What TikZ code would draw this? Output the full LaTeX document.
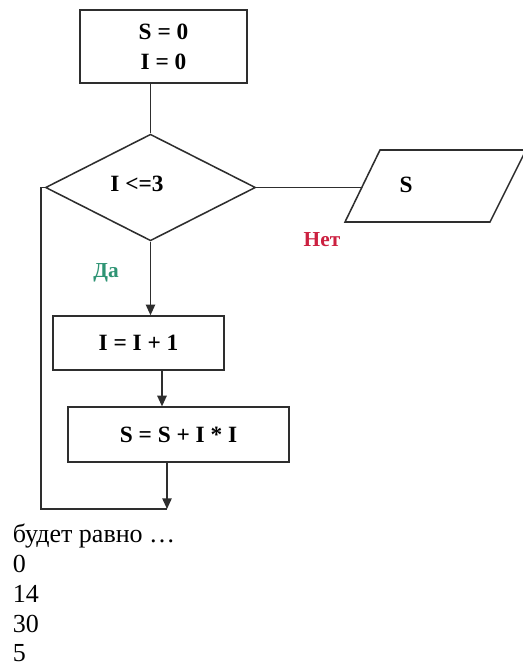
\documentclass[tikz,border=0pt]{standalone}
\usepackage{fontspec}
\setmainfont{Liberation Serif}
\usetikzlibrary{shapes.geometric,arrows.meta,calc}
\definecolor{lin}{HTML}{2E2E2E}
\definecolor{nored}{HTML}{CC2040}
\definecolor{yesgreen}{HTML}{2E9474}
\begin{document}
\begin{tikzpicture}[x=0.75pt,y=-0.75pt,
  line width=1.15pt,
  proc/.style={draw=lin,rectangle,inner sep=0pt,font=\fontsize{17.5}{20}\selectfont\bfseries,align=center},
  dec/.style={draw=lin,diamond,inner sep=0pt,minimum width=157.5pt,minimum height=80pt},
  lbl/.style={font=\fontsize{17.5}{20}\selectfont\bfseries,inner sep=0pt},
  slbl/.style={font=\fontsize{16}{19}\selectfont\bfseries,inner sep=0pt},
  arr/.style={draw=lin,-{Triangle[length=8pt,width=7pt]}},
  conn/.style={draw=lin},
  ans/.style={font=\fontsize{19.5}{22}\selectfont,anchor=base west,inner sep=0pt}]
\useasboundingbox (0,0) rectangle (523,666);
\fill[white] (0,0) rectangle (523,666);
% nodes
\node[proc,minimum width=125pt,minimum height=55pt] (init) at (163.5,46.5) {S = 0\\[2.5pt]I = 0};
\node[dec] (cond) at (150.5,187.5) {};
\node[lbl] (condt) at (137,184) {I <=3};
\node[proc,minimum width=128pt,minimum height=40.5pt] (inc) at (138.5,343) {I = I + 1};
\node[proc,minimum width=166pt,minimum height=41pt] (sum) at (178.5,434.5) {S = S + I * I};
% output parallelogram
\draw[lin] (380,150) -- (526,150) -- (490,222) -- (345,222) -- cycle;
\node[lbl] (out) at (406,185) {S};
\coordinate (outL) at (361.5,187.5);
% labels
\node[slbl,text=nored] (no) at (322,240) {Нет};
\node[slbl,text=yesgreen] (yes) at (106,273) {Да};
% connectors
\draw[conn] (init.south -| cond.north) -- (cond.north);
\draw[conn] (cond.east) -- (outL);
\draw[arr] (cond.south) -- (inc.north -| cond.south);
\draw[arr] ($(inc.south)+(23.5,0)$) -- ($(sum.north)+(-16.5,0)$);
\coordinate (c1) at (167,509);
\coordinate (c2) at (41,509);
\coordinate (c3) at (41,187.5);
\draw[arr] ($(sum.south)+(-11.5,0)$) -- (c1);
\draw[conn] (c1) -- (c2) -- (c3) -- (cond.west);
% answer text
\node[ans] (q) at (12,542) {будет равно …};
\node[ans] (a1) at (12,572) {0};
\node[ans] (a2) at (12,602) {14};
\node[ans] (a3) at (12,632) {30};
\node[ans] (a4) at (12,661) {5};
\end{tikzpicture}
\end{document}
